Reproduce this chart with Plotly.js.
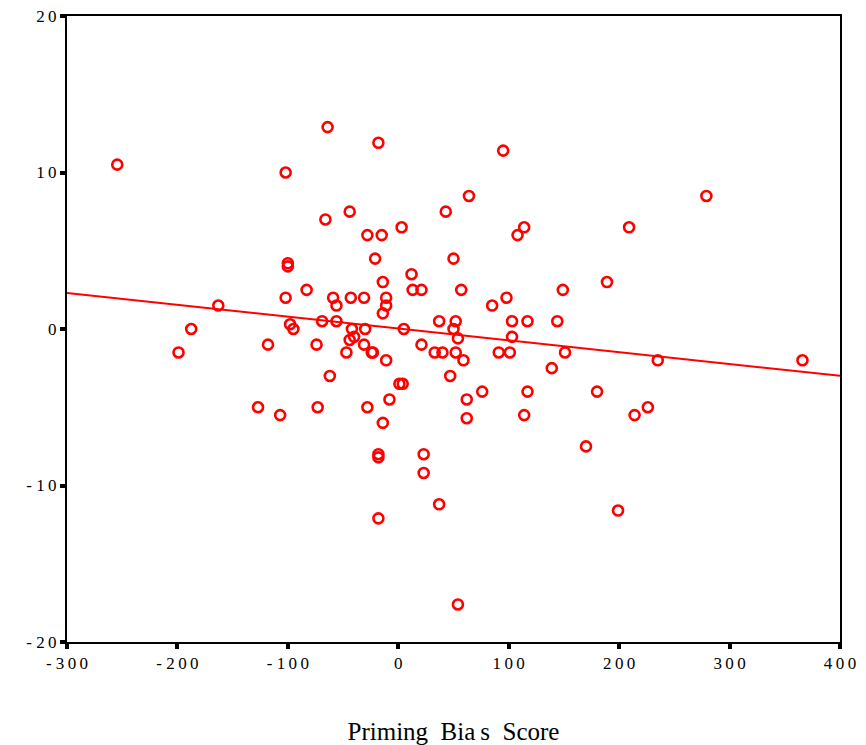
<!DOCTYPE html>
<html>
<head>
<script src="https://cdn.plot.ly/plotly-3.0.1.min.js"></script>
<style>body{margin:0;background:#fff}</style>
</head>
<body>
<div id="chart" style="width:866px;height:745px"></div>
<script>
const biasScore = [-254.5, -187.5, -199, -163, -118, -127, -107, -102, -100, -100, -102, -98, -95, -83, -74, -73, -69, -66, -64, -62,
  -59, -56, -56, -47, -44, -44, -43, -42, -40, -31, -31, -30, -28, -28, -24, -23, -21, -18, -18, -18,
  -18, -15, -14, -14, -11, -11, -11, -14, -8, 1, 4, 3, 5, 12, 13, 21, 21, 23, 23, 33,
  37, 37, 40, 43, 47, 50, 50, 52, 52, 54, 54, 57, 59, 62, 62, 64, 76, 85, 91, 95,
  98, 101, 103, 103, 108, 114, 114, 117, 117, 139, 144, 149, 151, 170, 180, 189, 199, 209, 214, 226,
  235, 279, 366];
const outcome = [10.5, 0, -1.5, 1.5, -1, -5, -5.5, 10, 4, 4.2, 2, 0.3, 0, 2.5, -1, -5, 0.5, 7, 12.9, -3,
  2, 1.5, 0.5, -1.5, 7.5, -0.7, 2, 0, -0.5, -1, 2, 0, 6, -5, -1.5, -1.5, 4.5, 11.9, -8, -8.2,
  -12.1, 6, 1, 3, 2, 1.5, -2, -6, -4.5, -3.5, -3.5, 6.5, 0, 3.5, 2.5, 2.5, -1, -8, -9.2, -1.5,
  0.5, -11.2, -1.5, 7.5, -3, 4.5, 0, 0.5, -1.5, -0.6, -17.6, 2.5, -2, -4.5, -5.7, 8.5, -4, 1.5, -1.5, 11.4,
  2, -1.5, -0.5, 0.5, 6, 6.5, -5.5, 0.5, -4, -2.5, 0.5, 2.5, -1.5, -7.5, -4, 3, -11.6, 6.5, -5.5, -5,
  -2, 8.5, -2];
const xTicks = [-300, -200, -100, 0, 100, 200, 300, 400];
const xTickText = ["-\u00a03\u20090\u20090", "-\u00a02\u20090\u20090", "-\u00a01\u20090\u20090", "0",
  "1\u20090\u20090", "2\u20090\u20090", "3\u20090\u20090", "4\u20090\u20090"];
const yTicks = [-20, -10, 0, 10, 20];
const yTickText = ["-\u00a02\u20090", "-\u00a01\u20090", "0", "1\u20090", "2\u20090"];
const fitRange = [-300, 400];

// least squares fit line
function fitLine(xs, ys) {
  const n = xs.length;
  const mx = xs.reduce((a, b) => a + b, 0) / n;
  const my = ys.reduce((a, b) => a + b, 0) / n;
  let sxy = 0, sxx = 0;
  xs.forEach((x, i) => { sxy += (x - mx) * (ys[i] - my); sxx += (x - mx) ** 2; });
  const slope = sxy / sxx;
  return { slope, intercept: my - slope * mx };
}
const fit = fitLine(biasScore, outcome);

const traces = [
  {
    type: "scatter", mode: "markers", x: biasScore, y: outcome,
    marker: { symbol: "circle-open", size: 10, color: "#ff0000", line: { width: 2.6, color: "#ff0000" } },
  },
  {
    type: "scatter", mode: "lines", x: fitRange,
    y: fitRange.map((x) => fit.intercept + fit.slope * x),
    line: { color: "#ff0000", width: 2 },
  },
];

const axisBase = {
  showgrid: false, zeroline: false, showline: true, mirror: true, linecolor: "#000", linewidth: 2,
  ticks: "outside", ticklen: 5, tickwidth: 4, tickcolor: "#000",
  tickfont: { family: "Liberation Serif", size: 17, color: "#000" },
};

const layout = {
  width: 866, height: 745, showlegend: false,
  paper_bgcolor: "#fff", plot_bgcolor: "#fff",
  margin: { l: 67, r: 26, t: 16, b: 103 },
  xaxis: { ...axisBase, range: [-300, 400], tickvals: xTicks, ticktext: xTickText,
    title: { text: "Priming\u00a0 Bia\u2009s\u00a0 Score", standoff: 52, font: { family: "Liberation Serif", size: 25, color: "#000" } } },
  yaxis: { ...axisBase, range: [-20, 20], tickvals: yTicks, ticktext: yTickText },
};

Plotly.newPlot("chart", traces, layout, { displayModeBar: false });
</script>
</body>
</html>
